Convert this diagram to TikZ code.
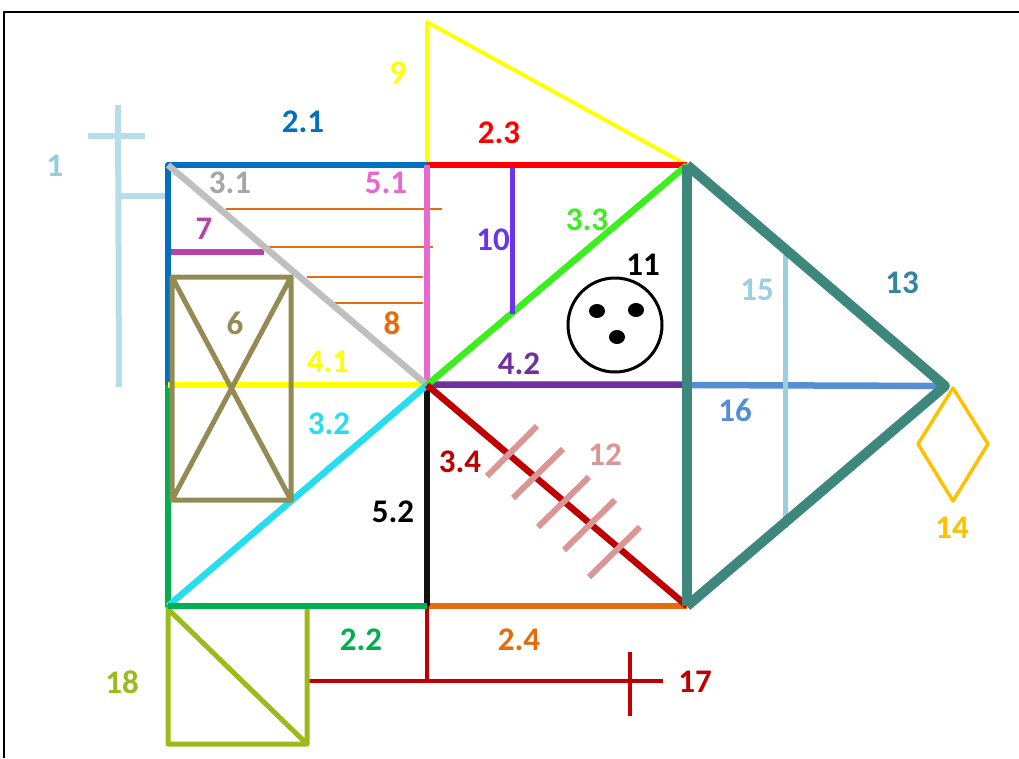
\documentclass[tikz,border=0pt]{standalone}
\usepackage{fontspec}
\setmainfont{Carlito}
\begin{document}
\begin{tikzpicture}[x=1pt,y=-1pt,line join=round,
  lbl/.style={font=\fontsize{33}{33}\selectfont\bfseries,inner sep=0pt},
  main/.style={line width=6.5pt},
  thin8/.style={line width=1.4pt,draw=c8},
]
\definecolor{c1}{HTML}{B7DEE8}\definecolor{c1t}{HTML}{92CDDC}
\definecolor{c21}{HTML}{0070C0}\definecolor{c22}{HTML}{00B050}
\definecolor{c23}{HTML}{FF0000}\definecolor{c24}{HTML}{E46C0A}
\definecolor{c31}{HTML}{BFBFBF}\definecolor{c31t}{HTML}{A6A6A6}
\definecolor{c32}{HTML}{25DDEE}\definecolor{c33}{HTML}{3CEE1E}
\definecolor{c34}{HTML}{C00000}\definecolor{c41}{HTML}{FFFF00}
\definecolor{c42}{HTML}{7030A0}\definecolor{c51}{HTML}{E868D0}
\definecolor{c52}{HTML}{111111}\definecolor{c6}{HTML}{948A54}
\definecolor{c7}{HTML}{B444A8}\definecolor{c8}{HTML}{E46C0A}
\definecolor{c10}{HTML}{6A34EC}\definecolor{c12}{HTML}{D99694}
\definecolor{c13}{HTML}{3D877C}\definecolor{c13t}{HTML}{31859C}
\definecolor{c14}{HTML}{FFC000}\definecolor{c15}{HTML}{9ACFE0}
\definecolor{c16}{HTML}{558ED5}\definecolor{c18}{HTML}{9BBB1A}
\useasboundingbox (0,0) rectangle (1019,758);
% frame
\coordinate (fa) at (4,758); \coordinate (fb) at (4,12); \coordinate (fc) at (1019,12);
\draw[line width=1.5pt] (fa) -- (fb) -- (fc);
% key points
\coordinate (TL) at (168,165); \coordinate (TM) at (427,165); \coordinate (TR) at (687,165);
\coordinate (ML) at (168,385); \coordinate (C) at (427,385); \coordinate (MR) at (687,385);
\coordinate (BL) at (168,606); \coordinate (BM) at (427,606); \coordinate (BR) at (687,606);
\coordinate (tip) at (945,386);
% 1
\coordinate (a1) at (118,105); \coordinate (b1) at (119,387);
\coordinate (c1a) at (88,136); \coordinate (c1b) at (145,136);
\coordinate (d1) at (119,196); \coordinate (e1) at (166,196);
\draw[c1,line width=6pt] (a1) -- (b1) (c1a) -- (c1b) (d1) -- (e1);
% 8 thin lines
\coordinate (h1a) at (226,209); \coordinate (h1b) at (442,209);
\coordinate (h2a) at (269,247); \coordinate (h2b) at (433,247);
\coordinate (h3a) at (307,277); \coordinate (h3b) at (423,277);
\coordinate (h4a) at (332,303); \coordinate (h4b) at (423,303);
\coordinate (h5a) at (430,382); \coordinate (h5b) at (687,382);
\draw[thin8] (h1a)--(h1b) (h2a)--(h2b) (h3a)--(h3b) (h4a)--(h4b) (h5a)--(h5b);
% 9
\coordinate (apex) at (427,22);
\draw[c41,line width=4pt] (TM) -- (apex) -- (TR);
% 7
\coordinate (s7a) at (171,252); \coordinate (s7b) at (264,252);
\draw[c7,line width=6pt] (s7a) -- (s7b);
% main outline
\draw[c21,main] (ML) -- (TL) -- (TM);
\draw[c22,main] (ML) -- (BL) -- (BM);
\draw[c23,main] (TM) -- (TR);
\draw[c24,main] (BM) -- (BR);
\draw[c41,main] (ML) -- (C);
\draw[c42,main] (C) -- (MR);
\draw[c16,main] (MR) -- (tip);
\draw[c51,main] (TM) -- (C);
\draw[c52,main] (C) -- (BM);
\draw[c31,main] (TL) -- (C);
\draw[c32,main] (BL) -- (C);
\draw[c33,main] (C) -- (TR);
\draw[c34,main] (C) -- (BR);
% 6 rectangle
\coordinate (r6a) at (172,277); \coordinate (r6b) at (291,277);
\coordinate (r6c) at (291,500); \coordinate (r6d) at (172,500);
\draw[c6,line width=5pt] (r6a) -- (r6b) -- (r6c) -- (r6d) -- cycle (r6a) -- (r6c) (r6b) -- (r6d);
% 10
\coordinate (t10) at (512,168); \coordinate (b10) at (512,314);
\draw[c10,line width=5pt] (t10) -- (b10);
% 11
\node[circle,draw,line width=3pt,minimum size=94pt,inner sep=0pt] (face) at (615,325) {};
\fill (597,311) ellipse (8pt and 7pt);
\fill (636,310) ellipse (8pt and 7pt);
\fill (617,337) ellipse (8pt and 7pt);
% 12 ticks
\draw[c12,line width=6pt]
  (487,476) -- (537,426) (513,498) -- (563,449) (538,527) -- (589,477)
  (564,550) -- (615,500) (589,577) -- (640,527);
% 15
\coordinate (t15) at (785,255); \coordinate (b15) at (785,528);
\draw[c15,line width=5pt] (t15) -- (b15);
% 13
\draw[c13,line width=10pt] (TR) -- (BR);
\draw[c13,line width=10pt] (TR) -- (tip) -- (BR);
% 14
\coordinate (d14t) at (953,388); \coordinate (d14r) at (988,444);
\coordinate (d14b) at (953,501); \coordinate (d14l) at (918,444);
\draw[c14,line width=3.5pt] (d14t) -- (d14r) -- (d14b) -- (d14l) -- cycle;
% 17
\coordinate (r17a) at (307,681); \coordinate (r17b) at (663,681);
\coordinate (r17j) at (427,681);
\coordinate (x17a) at (630,652); \coordinate (x17b) at (630,716);
\draw[c34,line width=4.5pt] (BM) -- (r17j) (r17a) -- (r17b) (x17a) -- (x17b);
% 18
\coordinate (q18a) at (168,609); \coordinate (q18b) at (307,609);
\coordinate (q18c) at (307,744); \coordinate (q18d) at (168,744);
\draw[c18,line width=5pt] (q18b) -- (q18c) -- (q18d) -- (q18a) -- (q18c);
\draw[c22,main] (BL) -- (BM);
% labels
\node[lbl,text=c1t] (l1) at (55,166) {1};
\node[lbl,text=c21] (l21) at (303,122) {2.1};
\node[lbl,text=c41] (l9) at (398,73) {9};
\node[lbl,text=c23] (l23) at (499,133) {2.3};
\node[lbl,text=c31t] (l31) at (230,183) {3.1};
\node[lbl,text=c51] (l51) at (386,183) {5.1};
\node[lbl,text=c7] (l7) at (204,229) {7};
\node[lbl,text=c6] (l6) at (235,323) {6};
\node[lbl,text=c8] (l8) at (392,323) {8};
\node[lbl,text=c10] (l10) at (493,240) {10};
\node[lbl,text=c33] (l33) at (587,220) {3.3};
\node[lbl,text=black] (l11) at (643,265) {11};
\node[lbl,text=c41] (l41) at (328,362) {4.1};
\node[lbl,text=c42] (l42) at (519,364) {4.2};
\node[lbl,text=c32] (l32) at (329,424) {3.2};
\node[lbl,text=c34] (l34) at (460,462) {3.4};
\node[lbl,text=c12] (l12) at (605,455) {12};
\node[lbl,text=black] (l52) at (393,512) {5.2};
\node[lbl,text=c15] (l15) at (757,290) {15};
\node[lbl,text=c13t] (l13) at (902,283) {13};
\node[lbl,text=c16] (l16) at (735,410) {16};
\node[lbl,text=c14] (l14) at (952,528) {14};
\node[lbl,text=c22] (l22) at (361,640) {2.2};
\node[lbl,text=c24] (l24) at (519,640) {2.4};
\node[lbl,text=c34] (l17) at (695,682) {17};
\node[lbl,text=c18] (l18) at (122,682) {18};
\end{tikzpicture}
\end{document}
